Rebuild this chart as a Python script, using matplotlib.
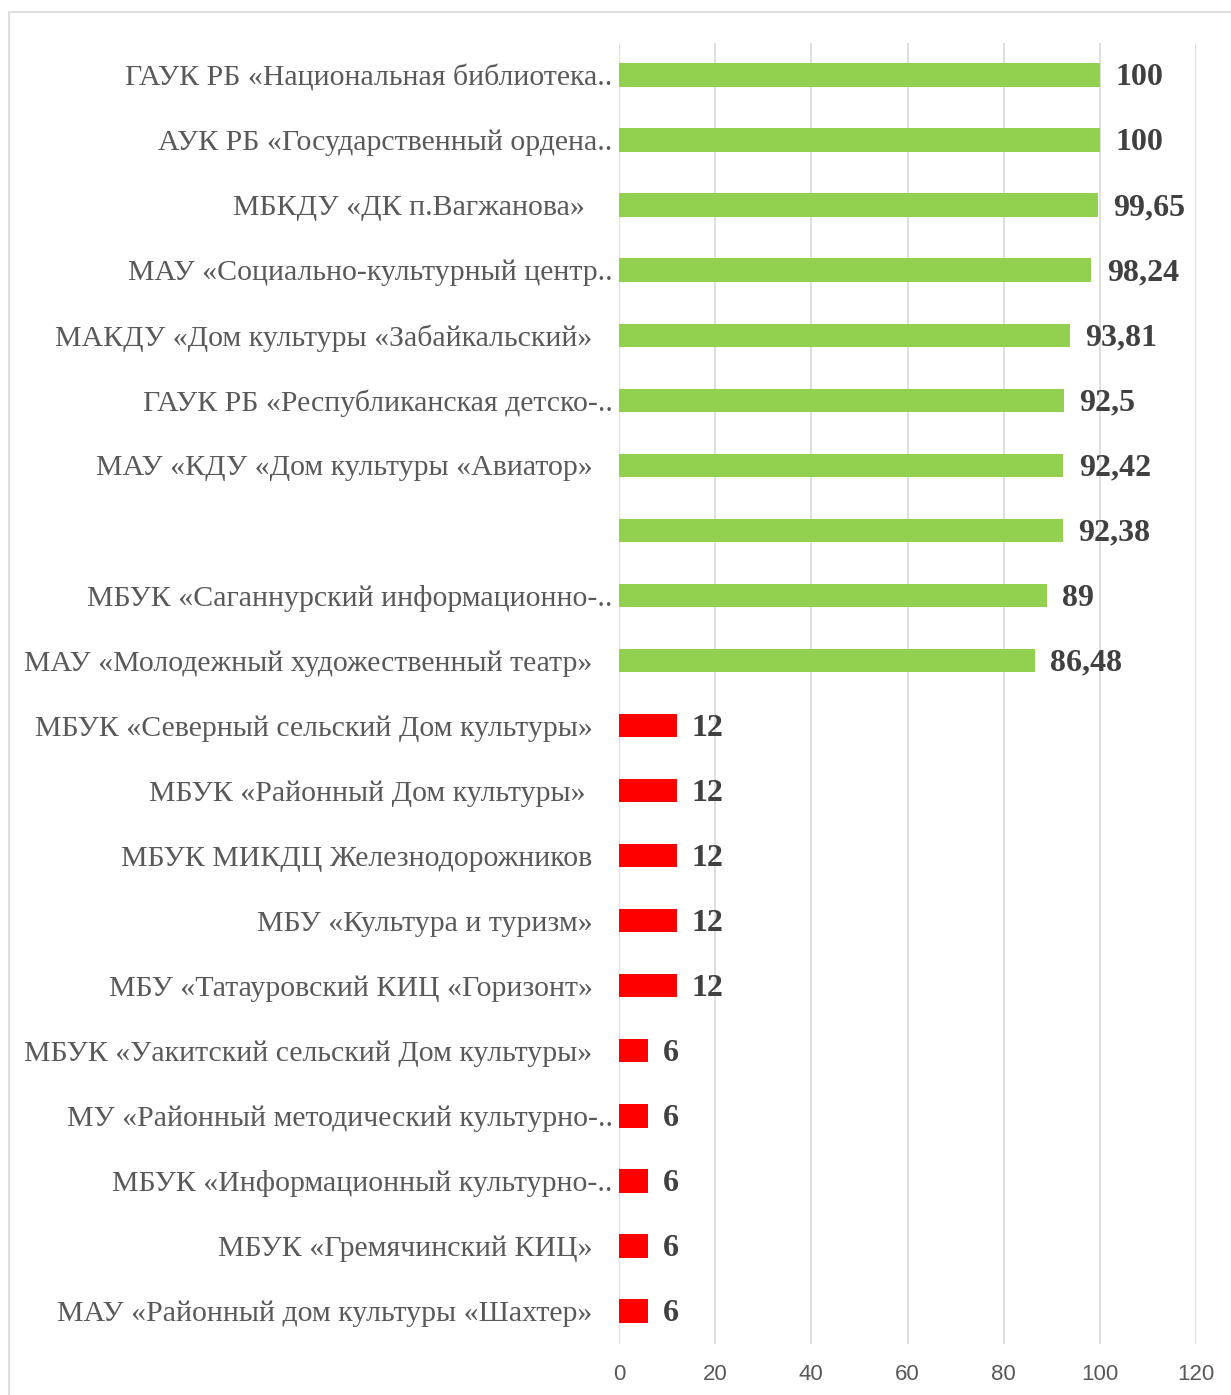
import matplotlib
matplotlib.use("Agg")
import matplotlib.pyplot as plt
import matplotlib.transforms as mtransforms
from matplotlib.patches import Rectangle

# data, top to bottom as in the chart
labels = [
	"ГАУК РБ «Национальная библиотека..",
	"АУК РБ «Государственный ордена..",
	"МБКДУ «ДК п.Вагжанова» ",
	"МАУ «Социально-культурный центр..",
	"МАКДУ «Дом культуры «Забайкальский»",
	"ГАУК РБ «Республиканская детско-..",
	"МАУ «КДУ «Дом культуры «Авиатор»",
	"",
	"МБУК «Саганнурский информационно-..",
	"МАУ «Молодежный художественный театр»",
	"МБУК «Северный сельский Дом культуры»",
	"МБУК «Районный Дом культуры» ",
	"МБУК МИКДЦ Железнодорожников",
	"МБУ «Культура и туризм»",
	"МБУ «Татауровский КИЦ «Горизонт»",
	"МБУК «Уакитский сельский Дом культуры»",
	"МУ «Районный методический культурно-..",
	"МБУК «Информационный культурно-..",
	"МБУК «Гремячинский КИЦ»",
	"МАУ «Районный дом культуры «Шахтер»",
]
values = [100, 100, 99.65, 98.24, 93.81, 92.5, 92.42, 92.38, 89, 86.48,
	12, 12, 12, 12, 12, 6, 6, 6, 6, 6]
x_ticks = [0, 20, 40, 60, 80, 100, 120]

GREEN = "#92D050"
RED = "#FF0000"

fig = plt.figure(figsize=(12.31, 13.95), dpi=100)
fig.patches.append(Rectangle((9 / 1231, -0.1), 1.2, 1.1 - 12 / 1395,
	transform=fig.transFigure, fill=False, edgecolor="#D9D9D9", linewidth=1.2))

ax = fig.add_axes([619 / 1231, 1 - 1343.5 / 1395, 577 / 1231, 1301 / 1395])

ypos = list(range(len(values)))
colors = [GREEN if v > 50 else RED for v in values]
ax.barh(ypos, values, height=0.36, color=colors, zorder=3)

for y, v in zip(ypos, values):
	txt = f"{v:g}".replace(".", ",")
	ax.annotate(txt, (v, y), xytext=(11, -2), textcoords="offset points",
		ha="left", va="center", fontsize=23, fontweight="bold",
		family="Liberation Serif", color="#404040")

ax.set_ylim(len(values) - 0.5, -0.5)
ax.set_xlim(0, 120)
ax.set_xticks(x_ticks)
ax.set_xticklabels([str(t) for t in x_ticks], fontsize=16,
	family=["Liberation Sans Narrow", "Liberation Sans", "DejaVu Sans"], color="#595959")
ax.set_yticks(ypos)
ax.set_yticklabels(labels, fontsize=21.5, family="Liberation Serif", color="#595959")
ax.tick_params(axis="y", length=0, pad=19)
ax.tick_params(axis="x", length=0, pad=15)

# Excel lets the clipped labels run a bit further right
shift = mtransforms.ScaledTranslation(20 / 100, 0, fig.dpi_scale_trans)
for lab, text in zip(ax.get_yticklabels(), labels):
	if text.endswith(".."):
		lab.set_transform(lab.get_transform() + shift)

ax.grid(axis="x", color="#D9D9D9", linewidth=1.2, zorder=0)
for s in ax.spines.values():
	s.set_visible(False)

fig.savefig("out.png", dpi=100)
